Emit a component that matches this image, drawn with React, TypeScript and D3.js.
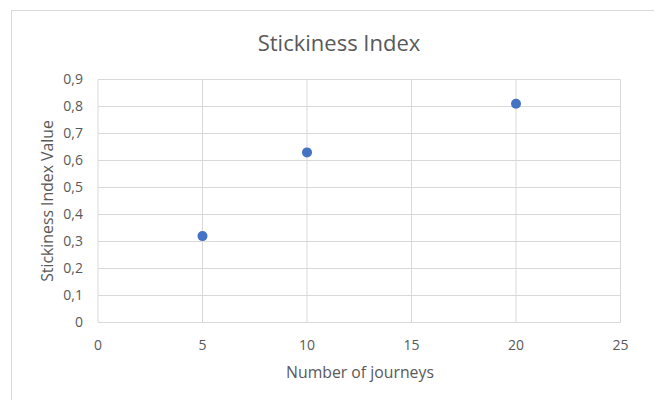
import React from "react";
import * as d3 from "d3";

const journeys = [5, 10, 20];
const stickiness = [0.32, 0.63, 0.81];
const xTicks = [0, 5, 10, 15, 20, 25];
const yTicks = [0, 0.1, 0.2, 0.3, 0.4, 0.5, 0.6, 0.7, 0.8, 0.9];

const W = 654;
const H = 400;
const FONT = "'Open Sans', Lato, sans-serif";
const TEXT = "#595959";
const GRID = "#D9D9D9";

export default function App() {
  const x = d3.scaleLinear().domain([0, 25]).range([98, 620.5]);
  const y = d3.scaleLinear().domain([0, 0.9]).range([322.5, 79.5]);
  const fmt = (v: number) => (v === 0 ? "0" : d3.format(".1f")(v).replace(".", ","));

  return (
    <svg
      width={W}
      height={H}
      style={{ position: "absolute", left: 0, top: 0, background: "#fff" }}
      fontFamily={FONT}
    >
      <rect x={11.5} y={10.5} width={W} height={H} fill="#fff" stroke={GRID} strokeWidth={1} />
      <text x={339} y={51} textAnchor="middle" fontSize={22} fill={TEXT}>
        Stickiness Index
      </text>
      {yTicks.map((t) => (
        <line key={"gy" + t} x1={x(0)} x2={x(25)} y1={y(t)} y2={y(t)} stroke={GRID} strokeWidth={1} />
      ))}
      {xTicks.map((t) => (
        <line key={"gx" + t} x1={x(t)} x2={x(t)} y1={y(0)} y2={y(0.9)} stroke={GRID} strokeWidth={1} />
      ))}
      {yTicks.map((t) => (
        <text key={"ty" + t} x={83} y={y(t)} dy="0.35em" textAnchor="end" fontSize={14} fill={TEXT}>
          {fmt(t)}
        </text>
      ))}
      {xTicks.map((t) => (
        <text key={"tx" + t} x={x(t)} y={345} dy="0.35em" textAnchor="middle" fontSize={14} fill={TEXT}>
          {t}
        </text>
      ))}
      <text x={360} y={372} dy="0.35em" textAnchor="middle" fontSize={15.8} fill={TEXT}>
        Number of journeys
      </text>
      <text
        transform={`translate(47,${(y(0) + y(0.9)) / 2}) rotate(-90)`}
        dy="0.35em"
        textAnchor="middle"
        fontSize={15.8}
        fill={TEXT}
      >
        Stickiness Index Value
      </text>
      {journeys.map((j, i) => (
        <circle key={"p" + i} cx={x(j)} cy={y(stickiness[i])} r={5} fill="#4472C4" />
      ))}
    </svg>
  );
}
